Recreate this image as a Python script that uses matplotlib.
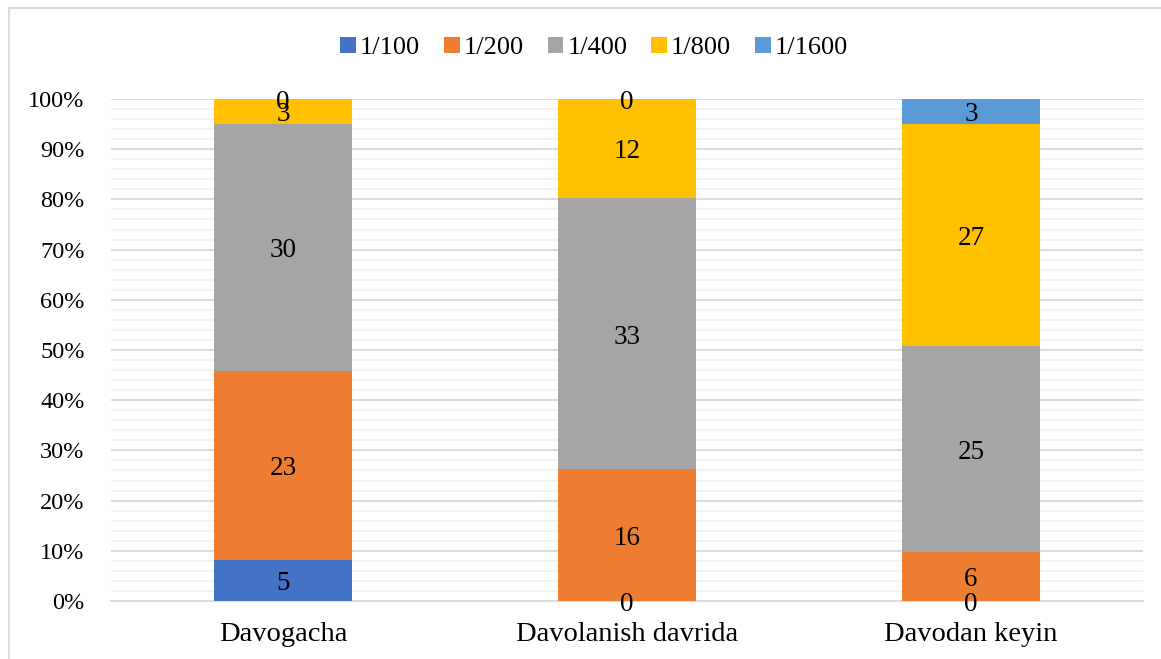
import matplotlib
matplotlib.use("Agg")
import matplotlib.pyplot as plt
import numpy as np
from matplotlib.lines import Line2D
from matplotlib.ticker import MultipleLocator, PercentFormatter

plt.rcParams['font.family'] = ['Liberation Serif', 'DejaVu Serif']

categories = ["Davogacha", "Davolanish davrida", "Davodan keyin"]
series_names = ["1/100", "1/200", "1/400", "1/800", "1/1600"]
v_1_100 = [5, 0, 0]
v_1_200 = [23, 16, 6]
v_1_400 = [30, 33, 25]
v_1_800 = [3, 12, 27]
v_1_1600 = [0, 0, 3]
colors = ["#4472C4", "#ED7D31", "#A5A5A5", "#FFC000", "#5B9BD5"]

data = np.array([v_1_100, v_1_200, v_1_400, v_1_800, v_1_1600], dtype=float)
totals = data.sum(axis=0)
pct = data / totals

fig = plt.figure(figsize=(11.61, 6.59), dpi=100)
ax = fig.add_axes([111/1161, 1-601/659, (1143-111)/1161, (601-99)/659])

x = np.arange(len(categories))
bottom = np.zeros(len(categories))
for i, name in enumerate(series_names):
    ax.bar(x, pct[i], 0.4, bottom=bottom, color=colors[i], label=name, zorder=3)
    for j in range(len(categories)):
        yc = bottom[j] + pct[i][j] / 2
        ax.annotate(f"{int(data[i][j])}", (x[j], yc), xytext=(0, -2.5),
                    textcoords='offset points', ha='center', va='center',
                    fontsize=19.5, color='#000000', zorder=4, annotation_clip=False)
    bottom += pct[i]

ax.set_xlim(-0.5, 2.5)
ax.set_ylim(0, 1)
ax.yaxis.set_major_locator(MultipleLocator(0.1))
ax.yaxis.set_minor_locator(MultipleLocator(0.02))
ax.yaxis.set_major_formatter(PercentFormatter(1.0, decimals=0))
ax.grid(axis='y', which='major', color='#D9D9D9', linewidth=1.3, zorder=0)
ax.grid(axis='y', which='minor', color='#F2F2F2', linewidth=1.3, zorder=0)
ax.set_xticks(x)
ax.set_xticklabels(categories)
ax.tick_params(axis='both', which='both', length=0, colors='#000000')
ax.tick_params(axis='x', labelsize=20.5, pad=15)
ax.tick_params(axis='y', labelsize=17.5, pad=19)
for s in ['top', 'right', 'left']:
    ax.spines[s].set_visible(False)
ax.spines['bottom'].set_color('#D9D9D9')
ax.spines['bottom'].set_linewidth(1.3)
ax.spines['bottom'].set_zorder(2)

leg = fig.legend(loc='center', bbox_to_anchor=(594/1161, 1-48/659), ncol=5, frameon=False,
                 fontsize=19, handlelength=0.6, handleheight=0.6, handletextpad=0.15,
                 columnspacing=0.9)

# chart area border (top and left)
fig.add_artist(Line2D([9/1161, 1], [1-8/659, 1-8/659], color='#D9D9D9', linewidth=1.3))
fig.add_artist(Line2D([9/1161, 9/1161], [0, 1-8/659], color='#D9D9D9', linewidth=1.3))

fig.savefig("out.png", dpi=100)
